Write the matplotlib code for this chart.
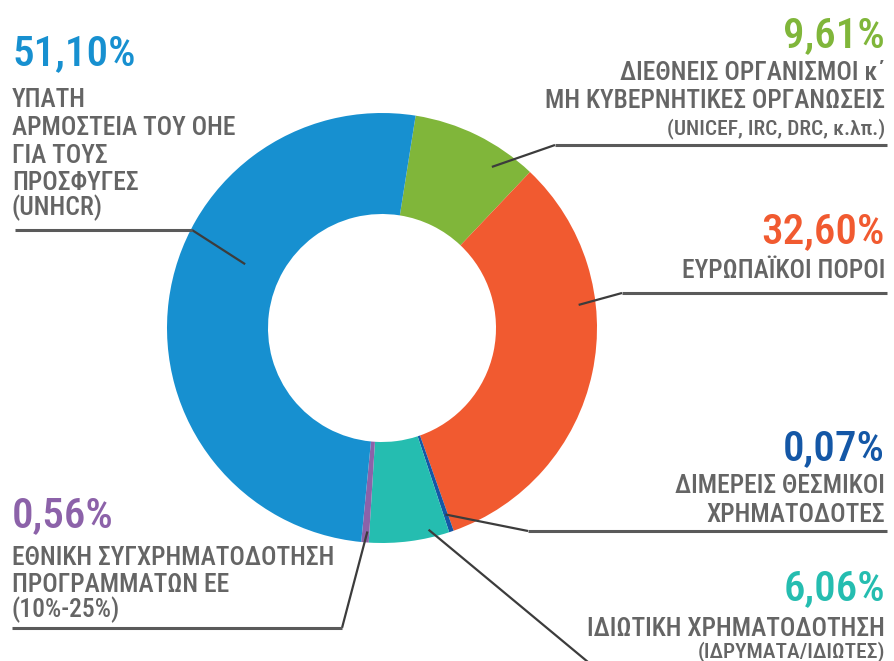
import numpy as np
import matplotlib
matplotlib.use("Agg")
import matplotlib.pyplot as plt
from matplotlib import font_manager as fm

# shares of funding, clockwise from the top
labels = ["green", "orange", "darkblue", "teal", "purple", "blue"]
shares = [9.61, 32.60, 0.07, 6.06, 0.56, 51.10]
pct_text = ["9,61%", "32,60%", "0,07%", "6,06%", "0,56%", "51,10%"]
colors = ["#80b63a", "#f15a30", "#1457a6", "#25bdb0", "#8c62a9", "#1790d0"]
names = [
    ["ΔΙΕΘΝΕΙΣ ΟΡΓΑΝΙΣΜΟΙ κ΄", "ΜΗ ΚΥΒΕΡΝΗΤΙΚΕΣ ΟΡΓΑΝΩΣΕΙΣ"],
    ["ΕΥΡΩΠΑΪΚΟΙ ΠΟΡΟΙ"],
    ["ΔΙΜΕΡΕΙΣ ΘΕΣΜΙΚΟΙ", "ΧΡΗΜΑΤΟΔΟΤΕΣ"],
    ["ΙΔΙΩΤΙΚΗ ΧΡΗΜΑΤΟΔΟΤΗΣΗ"],
    ["ΕΘΝΙΚΗ ΣΥΓΧΡΗΜΑΤΟΔΟΤΗΣΗ", "ΠΡΟΓΡΑΜΜΑΤΩΝ ΕΕ", "(10%-25%)"],
    ["ΥΠΑΤΗ", "ΑΡΜΟΣΤΕΙΑ ΤΟΥ ΟΗΕ", "ΓΙΑ ΤΟΥΣ", "ΠΡΟΣΦΥΓΕΣ", "(UNHCR)"],
]
notes = ["(UNICEF, IRC, DRC, κ.λπ.)", None, None, "(ΙΔΡΥΜΑΤΑ/ΙΔΙΩΤΕΣ)", None, None]

W, H = 895, 661
GRAY = "#656565"
LINE = "#3c3c3c"


def pick_font():
    # the original uses a condensed face of medium weight
    fonts = fm.fontManager.ttflist
    avail = {f.name for f in fonts}
    for fam in ["Roboto Condensed", "Liberation Sans Narrow", "Open Sans Condensed"]:
        if fam in avail:
            return fm.FontProperties(family=fam, weight="medium")
    cands = []
    for f in fonts:
        fn = f.fname.lower()
        if ("condensed" in fn or "narrow" in fn) and f.style == "normal" \
                and "mono" not in fn and "serif" not in fn.replace("sans", ""):
            w = f.weight if isinstance(f.weight, (int, float)) else 400
            cands.append((abs(w - 500), fn, f.fname))
    if cands:
        cands.sort()
        return fm.FontProperties(fname=cands[0][2])
    return fm.FontProperties(family="DejaVu Sans")


FONT = pick_font()


def Y(y):
    # picture rows -> data y
    return H - y


fig = plt.figure(figsize=(W / 100, H / 100), dpi=100)
ax = fig.add_axes([0, 0, 1, 1])

cx, cy, R = 382, Y(328), 215
shown = np.maximum(shares, 0.35)  # keep the tiniest slice visible
wedges, _ = ax.pie(shown, colors=colors, startangle=81, counterclock=False,
                   center=(cx, cy), radius=R,
                   wedgeprops=dict(width=101, linewidth=0))
ax.set_xlim(0, W)
ax.set_ylim(0, H)
ax.axis("off")

# fit font sizes to the widths seen in the original
renderer = fig.canvas.get_renderer()


def width_at(s, size):
    t = ax.text(0, 0, s, fontproperties=FONT, fontsize=size)
    w = t.get_window_extent(renderer).width
    t.remove()
    return w


LBL = min(19.5, 18.8 * 224 / width_at("ΑΡΜΟΣΤΕΙΑ ΤΟΥ ΟΗΕ", 18.8))
PCT = min(34, 27 * 124 / width_at("51,10%", 27))
NOTE = LBL * 0.84

# layout: text side, x, baselines, leader (anchor angle, radius, elbow, end)
layout = [
    dict(ha="right", x=885, pct_y=47, lines_y=[80, 108], note_y=134,
         lead=(55.7, 195, (555, 145), (887, 145))),
    dict(ha="right", x=885, pct_y=243, lines_y=[278], note_y=None,
         lead=(6.7, 198, (622, 293), (887, 293))),
    dict(ha="right", x=885, pct_y=460, lines_y=[493, 522], note_y=None,
         lead=(-71.2, 197, (528, 531), (887, 531))),
    dict(ha="right", x=885, pct_y=600, lines_y=[636], note_y=657,
         lead=(-77.0, 207, (600, 672), (887, 672))),
    dict(ha="left", x=12, pct_y=527, lines_y=[565, 592, 617], note_y=None,
         lead=(-94.1, 204, (342, 628), (12, 628))),
    dict(ha="left", x=12, pct_y=65, lines_y=[107, 135, 163, 190, 215], note_y=None,
         lead=(155.0, 151, (192, 230), (15, 230))),
]

for i, lay in enumerate(layout):
    ax.text(lay["x"], Y(lay["pct_y"]), pct_text[i], ha=lay["ha"], va="baseline",
            fontproperties=FONT, fontsize=PCT, color=colors[i])
    for line, yy in zip(names[i], lay["lines_y"]):
        ax.text(lay["x"], Y(yy), line, ha=lay["ha"], va="baseline",
                fontproperties=FONT, fontsize=LBL, color=GRAY)
    if notes[i]:
        ax.text(lay["x"], Y(lay["note_y"]), notes[i], ha=lay["ha"], va="baseline",
                fontproperties=FONT, fontsize=NOTE, color=GRAY)
    ang, r, elbow, end = lay["lead"]
    a = np.deg2rad(ang)
    x0, y0 = cx + r * np.cos(a), cy + r * np.sin(a)
    ax.plot([x0, elbow[0]], [y0, Y(elbow[1])], color=LINE, lw=1.6,
            solid_capstyle="butt")
    ax.plot([elbow[0], end[0]], [Y(elbow[1]), Y(end[1])], color="#5a5a5a", lw=2.2,
            solid_capstyle="butt")

fig.savefig("out.png", dpi=100)
